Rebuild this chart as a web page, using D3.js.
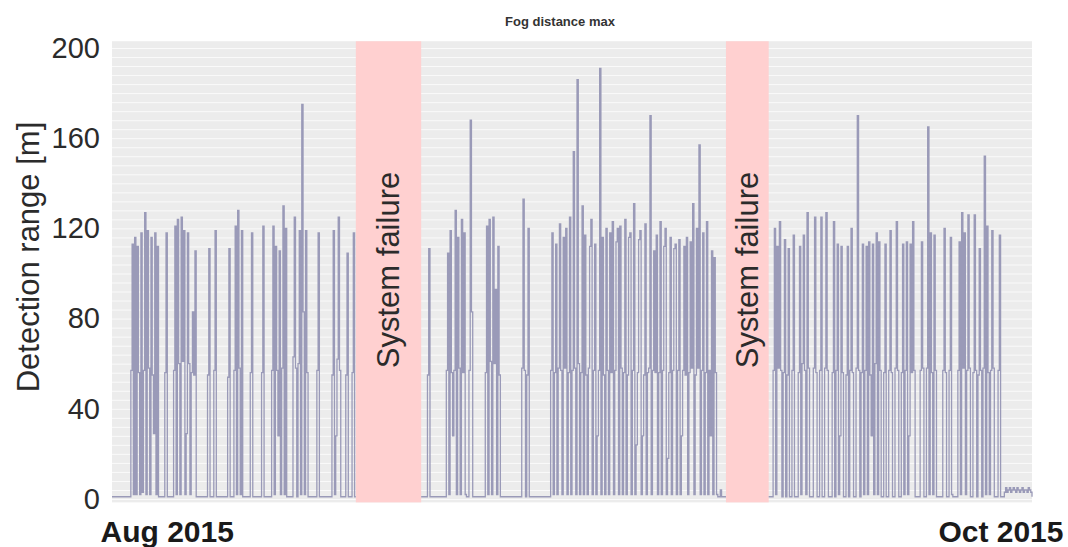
<!DOCTYPE html>
<html>
<head>
<meta charset="utf-8">
<script src="https://cdn.jsdelivr.net/npm/d3@7"></script>
<style>
  body { margin: 0; background: #fff; }
  svg { display: block; font-family: "Liberation Sans", Arial, Helvetica, sans-serif; }
</style>
</head>
<body>
<svg id="chart" width="1068" height="547"></svg>
<script>
// ---- data -------------------------------------------------------------
const chartTitle = "Fog distance max";
const yAxisTitle = "Detection range [m]";
const periodStart = new Date(Date.UTC(2015, 7, 1));
const periodEnd = new Date(Date.UTC(2015, 9, 1));
const xTickLabels = ["Aug 2015", "Oct 2015"];
const yTicks = [0, 40, 80, 120, 160, 200];

// outages, in hours since 1 Aug 2015 00:00 UTC
const failureStartHour = [388, 977];
const failureEndHour = [492, 1045];
const failureLabel = "System failure";

// sensor reading when no fog is present [m]
const idleLevel = 1;
// spacing of the logged readings [h]
const stepHours = 2;

// fog episodes: start hour and consecutive readings [m]
const fogStartHour = [
  30, 84, 98, 152, 162, 184, 194, 220, 238, 254, 288, 296, 326, 350, 372, 382,
  502, 532, 568, 594, 652, 660, 698, 968,
  1052, 1068, 1074, 1082, 1092, 1116, 1126, 1134, 1146, 1152, 1168, 1174, 1184, 1192,
  1228, 1236, 1246, 1256, 1286, 1296, 1322, 1332, 1346, 1370, 1378, 1386, 1410, 1420
];
const fogValues = [
  [57,113,2,116,2,112,56,2,118,3,57,127,2,119,58,2,116,55,29,118,2,112],
  [56,118],
  [57,121,2,124,60,2,125,61,119,2,29,118,60,2,56,83,55,110],
  [55,111],
  [57,119],
  [54,111],
  [57,121,2,128,58,2,119],
  [56,118],
  [56,121],
  [57,121,2,112,57,28,110,2,58,130,2,120],
  [63,125,58],
  [60,119,2,175,83,2,119,56],
  [57,118],
  [55,119,2,28,62,125,57],
  [55,109],
  [56,118],
  [55,111],
  [57,109,2,119,56,28,57,128,2,116,58,2,124,56,118,2],
  [57,168,83],
  [56,121,2,124,61,2,125,60,93,2,112,55],
  [58,133,57],
  [55,120],
  [57,118,2,56,113,2,58,122,57,2,116,58,120,2,56,125,2,57,154,58,
   2,186,60,2,56,130,2,117,55,2,58,112,124,2,57,113,2,28,57,191,
   2,116,55,2,120,57,2,118,56,123,2,57,114,120,2,121,58,2,56,124,
   2,55,116,118,2,57,131,2,24,56,115,119,2,28,55,122,2,56,58,170,
   2,57,110,56,117,2,56,123,2,57,112,120,2,18,56,116,2,57,111,113,
   2,57,115,2,28,57,112,55,116,2,56,114,58,131,2,55,120,58,157,2,
   57,118,2,56,123,2,57,28,110,2,107,56,2],
  [4],
  [57,120,2,112,58,123,57],
  [56,115],
  [55,111],
  [57,117],
  [56,112,2,60,117,57,2,127,58],
  [58,125,56],
  [57,125],
  [58,127,57],
  [56,123],
  [57,113,2,28,112,56],
  [55,112],
  [57,120,56],
  [58,170,57],
  [56,113,2,57,112,2,114,55,28,113,2,60,118,2,114,57],
  [56,113],
  [57,119,56],
  [58,123,57],
  [56,113,2,57,114,2,28,113,56,123,57],
  [57,114,58],
  [58,165,2,118,56,2,117,57],
  [57,120,56],
  [57,116,2],
  [57,114,2,127,58,118,2,57,126,58],
  [56,126,57],
  [55,111,57],
  [58,152,2,121,56,2,57,119,58],
  [57,117],
  [3,5,3,4,5,3,4,5,4,3,5,4,3,4,5,3,4,4,3,5,4,3]
];

// ---- layout -----------------------------------------------------------
const svg = d3.select("#chart");
const plotLeft = 112, plotRight = 1032;
const fontStack = "\"Liberation Sans\", Arial, sans-serif";

const x = d3.scaleUtc().domain([periodStart, periodEnd]).range([plotLeft, plotRight]);
const y = d3.scaleLinear().domain([0, 200]).range([499, 48]);
const hourToDate = h => d3.utcHour.offset(periodStart, h);

// plot background with fine horizontal rules
svg.append("rect")
  .attr("x", plotLeft).attr("y", y(203))
  .attr("width", plotRight - plotLeft).attr("height", y(-1.5) - y(203))
  .attr("fill", "#ececec");

svg.append("g")
  .selectAll("line")
  .data(d3.range(0, 203, 4))
  .join("line")
  .attr("x1", plotLeft).attr("x2", plotRight)
  .attr("y1", d => y(d) + 0.5).attr("y2", d => y(d) + 0.5)
  .attr("stroke", "#fafafa").attr("stroke-width", 1);

// outage bands
const failures = failureStartHour.map((s, i) => ({ start: s, end: failureEndHour[i] }));
svg.append("g")
  .selectAll("rect")
  .data(failures)
  .join("rect")
  .attr("x", d => x(hourToDate(d.start)))
  .attr("width", d => x(hourToDate(d.end)) - x(hourToDate(d.start)))
  .attr("y", y(203))
  .attr("height", y(-1.5) - y(203))
  .attr("fill", "#ffd0d0");

// build the readings, one run per period of operation
const runBounds = [];
let runStart = 0;
failures.forEach(f => { runBounds.push([runStart, f.start]); runStart = f.end; });
runBounds.push([runStart, d3.utcHour.count(periodStart, periodEnd)]);

const runs = runBounds.map(([a, b]) => {
  const pts = [{ h: a, v: idleLevel }];
  fogStartHour.forEach((s, i) => {
    if (s < a || s >= b) return;
    fogValues[i].forEach((v, k) => pts.push({ h: s + k * stepHours, v }));
    pts.push({ h: s + fogValues[i].length * stepHours, v: idleLevel });
  });
  pts.push({ h: b, v: idleLevel });
  return pts;
});

const line = d3.line()
  .x(d => x(hourToDate(d.h)))
  .y(d => y(d.v))
  .curve(d3.curveStepAfter);

svg.append("g")
  .selectAll("path")
  .data(runs)
  .join("path")
  .attr("d", line)
  .attr("fill", "none")
  .attr("stroke", "#9a9ab8")
  .attr("stroke-width", 1.3);

// outage labels
svg.append("g")
  .selectAll("text")
  .data(failures)
  .join("text")
  .attr("transform", d => {
    const cx = (x(hourToDate(d.start)) + x(hourToDate(d.end))) / 2;
    return `translate(${cx},270) rotate(-90)`;
  })
  .attr("text-anchor", "middle")
  .attr("dominant-baseline", "central")
  .attr("font-size", 31)
  .attr("fill", "#2b2b2b")
  .text(failureLabel);

// y axis
const yAxis = svg.append("g")
  .attr("transform", `translate(${plotLeft},0)`)
  .call(d3.axisLeft(y).tickValues(yTicks).tickSize(0).tickPadding(12).tickFormat(d3.format("d")));
yAxis.select(".domain").remove();
yAxis.selectAll("text")
  .attr("font-size", 29)
  .attr("font-family", fontStack)
  .attr("fill", "#2b2b2b");

// x axis: first and last month only
const xAxis = svg.append("g")
  .attr("transform", `translate(0,${y(0)})`)
  .call(d3.axisBottom(x).tickValues([periodStart, periodEnd]).tickSize(0).tickPadding(0)
    .tickFormat((d, i) => xTickLabels[i]));
xAxis.select(".domain").remove();
xAxis.selectAll("text")
  .attr("font-size", 30)
  .attr("font-weight", "bold")
  .attr("font-family", fontStack)
  .attr("fill", "#1a1a1a")
  .attr("dy", null)
  .attr("y", 43)
  .attr("text-anchor", (d, i) => i === 0 ? "start" : "end")
  .attr("dx", (d, i) => i === 0 ? -12 : 31);

// axis title
svg.append("text")
  .attr("transform", "translate(28,257) rotate(-90)")
  .attr("text-anchor", "middle")
  .attr("dominant-baseline", "central")
  .attr("font-size", 31)
  .attr("fill", "#2b2b2b")
  .text(yAxisTitle);

// chart title
svg.append("text")
  .attr("x", 560).attr("y", 26)
  .attr("text-anchor", "middle")
  .attr("font-size", 13)
  .attr("font-weight", "bold")
  .attr("fill", "#333")
  .text(chartTitle);
</script>
</body>
</html>
